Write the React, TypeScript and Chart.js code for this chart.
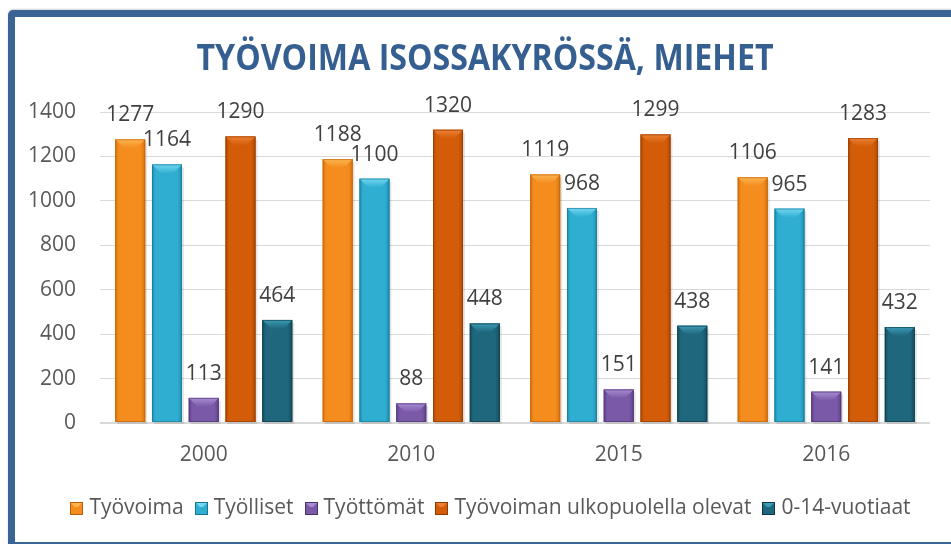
import React, { useEffect, useRef } from 'react';
import { Chart, registerables } from 'chart.js';

Chart.register(...registerables);

// ---- Data ----
const TITLE = 'TYÖVOIMA ISOSSAKYRÖSSÄ, MIEHET';
const YEARS = ['2000', '2010', '2015', '2016'];
const SERIES_NAMES = ['Työvoima', 'Työlliset', 'Työttömät', 'Työvoiman ulkopuolella olevat', '0-14-vuotiaat'];
const TYOVOIMA = [1277, 1188, 1119, 1106];
const TYOLLISET = [1164, 1100, 968, 965];
const TYOTTOMAT = [113, 88, 151, 141];
const ULKOPUOLELLA = [1290, 1320, 1299, 1283];
const NUORET = [464, 448, 438, 432];
const Y_MIN = 0;
const Y_MAX = 1400;
const Y_STEP = 200;

// ---- Styles ----
const PALETTE = [
  { main: '#F48C1E', edge: '#D9740C', top: '#FDB552', dark: '#B85F08' },
  { main: '#30AED2', edge: '#1E8FB0', top: '#72D7F0', dark: '#167590' },
  { main: '#7A59A8', edge: '#5F4289', top: '#A88CD2', dark: '#4A3270' },
  { main: '#D35C08', edge: '#B04A04', top: '#EB8034', dark: '#8E3B02' },
  { main: '#1F677C', edge: '#154E5F', top: '#3C9BB6', dark: '#0D3845' },
];
const FONT = '"Open Sans", "Noto Sans", sans-serif';
const TEXT_COLOR = '#595959';
const LABEL_COLOR = '#404040';
const TITLE_COLOR = '#355F91';
const FRAME_COLOR = '#3A6494';

const SERIES_VALUES = [TYOVOIMA, TYOLLISET, TYOTTOMAT, ULKOPUOLELLA, NUORET];

const bevelPlugin = {
  id: 'bevelBars',
  afterDatasetsDraw(chart: any) {
    const ctx = chart.ctx as CanvasRenderingContext2D;
    chart.data.datasets.forEach((_ds: any, di: number) => {
      const meta = chart.getDatasetMeta(di);
      if (meta.hidden) return;
      const pal = PALETTE[di];
      meta.data.forEach((bar: any) => {
        const { x, y, base, width } = bar.getProps(['x', 'y', 'base', 'width'], true);
        const l = x - width / 2;
        const r = x + width / 2;
        const t = Math.min(y, base);
        const b = Math.max(y, base);
        const h = b - t;
        ctx.save();
        ctx.fillStyle = 'rgba(0,0,0,0.10)';
        ctx.fillRect(l + 2, t + 3, width, h - 1);
        const g = ctx.createLinearGradient(l, 0, r, 0);
        g.addColorStop(0, pal.edge);
        g.addColorStop(0.12, pal.main);
        g.addColorStop(0.85, pal.main);
        g.addColorStop(1, pal.edge);
        ctx.fillStyle = g;
        ctx.fillRect(l, t, width, h);
        const bv = Math.min(9, h / 2, width / 2);
        const tg = ctx.createLinearGradient(0, t, 0, t + bv);
        tg.addColorStop(0, pal.top);
        tg.addColorStop(1, pal.main);
        ctx.fillStyle = tg;
        ctx.beginPath();
        ctx.moveTo(l, t);
        ctx.lineTo(r, t);
        ctx.lineTo(r - bv, t + bv);
        ctx.lineTo(l + bv, t + bv);
        ctx.closePath();
        ctx.fill();
        ctx.strokeStyle = pal.dark;
        ctx.globalAlpha = 0.6;
        ctx.lineWidth = 1;
        ctx.strokeRect(l + 0.5, t + 0.5, width - 1, h - 1);
        ctx.restore();
      });
    });
    // value labels
    ctx.save();
    ctx.font = `21px ${FONT}`;
    ctx.fillStyle = LABEL_COLOR;
    ctx.textAlign = 'center';
    ctx.textBaseline = 'alphabetic';
    chart.data.datasets.forEach((ds: any, di: number) => {
      const meta = chart.getDatasetMeta(di);
      meta.data.forEach((bar: any, i: number) => {
        const { x, y } = bar.getProps(['x', 'y'], true);
        ctx.fillText(String(ds.data[i]), x, y - 18);
      });
    });
    ctx.restore();
  },
};

const titleLegendPlugin = {
  id: 'titleLegend',
  afterDraw(chart: any) {
    const ctx = chart.ctx as CanvasRenderingContext2D;
    ctx.save();
    // title
    ctx.font = `bold 35px ${FONT}`;
    ctx.fillStyle = TITLE_COLOR;
    ctx.textAlign = 'center';
    ctx.textBaseline = 'alphabetic';
    ctx.fillText(TITLE, 485, 70, 577);
    // legend
    ctx.font = `21px ${FONT}`;
    const box = 13;
    const gapText = 6;
    const gapItem = 11;
    const items = chart.data.datasets.map((ds: any) => ds.label as string);
    const widths = items.map((t: string) => ctx.measureText(t).width);
    const total = widths.reduce((a: number, w: number) => a + box + gapText + w, 0) + gapItem * (items.length - 1);
    let cx = 490.5 - total / 2;
    const cy = 508;
    items.forEach((t: string, i: number) => {
      const pal = PALETTE[i];
      const bx = Math.round(cx);
      const by = Math.round(cy - box / 2);
      ctx.fillStyle = pal.main;
      ctx.fillRect(bx, by, box, box);
      ctx.fillStyle = pal.top;
      ctx.beginPath();
      ctx.moveTo(bx, by);
      ctx.lineTo(bx + box, by);
      ctx.lineTo(bx + box - 5, by + 5);
      ctx.lineTo(bx + 5, by + 5);
      ctx.closePath();
      ctx.fill();
      ctx.strokeStyle = pal.dark;
      ctx.lineWidth = 1;
      ctx.strokeRect(bx + 0.5, by + 0.5, box - 1, box - 1);
      ctx.fillStyle = TEXT_COLOR;
      ctx.textAlign = 'left';
      ctx.textBaseline = 'middle';
      ctx.fillText(t, cx + box + gapText, cy);
      cx += box + gapText + widths[i] + gapItem;
    });
    ctx.restore();
  },
};

export default function App() {
  const canvasRef = useRef<HTMLCanvasElement | null>(null);

  useEffect(() => {
    if (!canvasRef.current) return;
    const chart = new Chart(canvasRef.current, {
      type: 'bar',
      data: {
        labels: YEARS,
        datasets: SERIES_NAMES.map((name, i) => ({
          label: name,
          data: SERIES_VALUES[i],
          backgroundColor: PALETTE[i].main,
          borderWidth: 0,
          barPercentage: 0.816,
          categoryPercentage: 0.886,
        })),
      },
      options: {
        responsive: false,
        animation: false,
        devicePixelRatio: 1,
        layout: { padding: { top: 112, right: 21, bottom: 61, left: 0 } },
        plugins: {
          legend: { display: false },
          title: { display: false },
          tooltip: { enabled: false },
        },
        scales: {
          x: {
            grid: { display: false, drawTicks: false },
            border: { display: false },
            ticks: { color: TEXT_COLOR, font: { family: FONT, size: 21 }, padding: 19 },
            afterFit: (scale: any) => {
              scale.height = 60;
            },
          },
          y: {
            min: Y_MIN,
            max: Y_MAX,
            ticks: {
              stepSize: Y_STEP,
              color: TEXT_COLOR,
              font: { family: FONT, size: 21 },
              padding: 24,
              callback: (v: any) => String(v),
            },
            grid: {
              color: '#D9D9D9',
              lineWidth: (c: any) => (c.tick && c.tick.value === 0 ? 2 : 1),
              drawTicks: false,
            },
            border: { display: false },
            afterFit: (scale: any) => {
              scale.width = 100;
            },
          },
        },
      },
      plugins: [bevelPlugin, titleLegendPlugin],
    });
    return () => chart.destroy();
  }, []);

  return (
    <div style={{ position: 'fixed', left: 0, top: 0, width: 951, height: 544, overflow: 'hidden', background: '#fff' }}>
      <div
        style={{
          position: 'absolute',
          left: 8,
          top: 10,
          width: 1000,
          height: 539,
          boxSizing: 'border-box',
          border: `7px solid ${FRAME_COLOR}`,
          borderRadius: 5,
          boxShadow: '0 -1px 2px rgba(0,0,0,0.18)',
        }}
      />
      <canvas ref={canvasRef} width={951} height={544} style={{ position: 'absolute', left: 0, top: 0, display: 'block' }} />
    </div>
  );
}
